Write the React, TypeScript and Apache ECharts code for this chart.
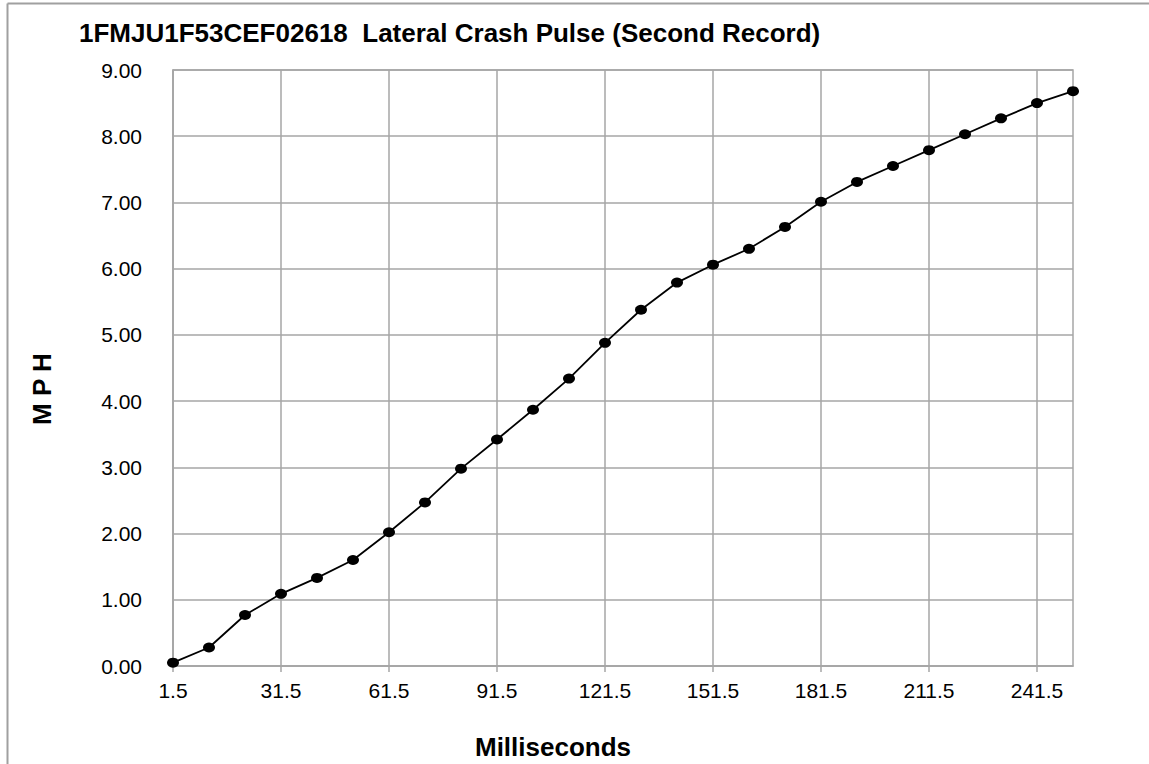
import React, { useEffect, useRef } from "react";
import * as echarts from "echarts";

const categories = [
  "1.5", "11.5", "21.5", "31.5", "41.5", "51.5", "61.5", "71.5", "81.5", "91.5",
  "101.5", "111.5", "121.5", "131.5", "141.5", "151.5", "161.5", "171.5", "181.5", "191.5",
  "201.5", "211.5", "221.5", "231.5", "241.5", "251.5",
];
const mph = [
  0.05, 0.28, 0.77, 1.09, 1.33, 1.6, 2.02, 2.47, 2.98, 3.42,
  3.87, 4.34, 4.88, 5.38, 5.79, 6.06, 6.3, 6.63, 7.01, 7.31,
  7.55, 7.79, 8.03, 8.27, 8.5, 8.68,
];
const titleText = "1FMJU1F53CEF02618  Lateral Crash Pulse (Second Record)";
const xName = "Milliseconds";
const yName = "M P H";

const FONT = "'Liberation Sans', Arial, sans-serif";
const GRID = "#a6a6a6";

export default function App() {
  const ref = useRef<HTMLDivElement>(null);
  useEffect(() => {
    if (!ref.current) return;
    const chart = echarts.init(ref.current, null, { renderer: "svg" });
    chart.setOption({
      animation: false,
      backgroundColor: "#ffffff",
      textStyle: { fontFamily: FONT },
      grid: {
        left: 173,
        right: 76,
        top: 70,
        bottom: 98,
        show: true,
        borderColor: GRID,
        borderWidth: 1.5,
        backgroundColor: "transparent",
      },
      xAxis: {
        type: "category",
        data: categories,
        boundaryGap: false,
        axisLine: { show: true, lineStyle: { color: GRID, width: 1.5 } },
        axisTick: { show: true, interval: 2, length: 6, lineStyle: { color: GRID, width: 1.5 } },
        axisLabel: { interval: 2, color: "#000", fontSize: 21, fontFamily: FONT, margin: 14 },
        splitLine: { show: true, interval: 2, lineStyle: { color: GRID, width: 1.5 } },
      },
      yAxis: {
        type: "value",
        min: 0,
        max: 9,
        interval: 1,
        axisLine: { show: true, lineStyle: { color: GRID, width: 1.5 } },
        axisTick: { show: false },
        axisLabel: {
          color: "#000",
          fontSize: 21,
          fontFamily: FONT,
          margin: 31,
          formatter: (v: number) => v.toFixed(2),
        },
        splitLine: { show: true, lineStyle: { color: GRID, width: 1.5 } },
      },
      series: [
        {
          type: "line",
          data: mph,
          symbol: "circle",
          symbolSize: [12, 10],
          itemStyle: { color: "#000" },
          lineStyle: { color: "#000", width: 1.8 },
        },
      ],
      graphic: [
        { type: "line", shape: { x1: 7.5, y1: 3.5, x2: 1149, y2: 3.5 }, style: { stroke: "#a0a0a0", lineWidth: 2 } },
        { type: "line", shape: { x1: 7.5, y1: 3.5, x2: 7.5, y2: 764 }, style: { stroke: "#a0a0a0", lineWidth: 2 } },
        {
          type: "text",
          x: 79,
          y: 33,
          style: {
            text: titleText,
            fontSize: 26,
            fontWeight: "bold",
            fontFamily: FONT,
            fill: "#000",
            textAlign: "left",
            textVerticalAlign: "middle",
          },
        },
        {
          type: "text",
          x: 553,
          y: 747,
          style: {
            text: xName,
            fontSize: 26,
            fontWeight: "bold",
            fontFamily: FONT,
            fill: "#000",
            textAlign: "center",
            textVerticalAlign: "middle",
          },
        },
        {
          type: "text",
          x: 42,
          y: 389,
          rotation: Math.PI / 2,
          style: {
            text: yName,
            fontSize: 26,
            fontWeight: "bold",
            fontFamily: FONT,
            fill: "#000",
            textAlign: "center",
            textVerticalAlign: "middle",
          },
        },
      ],
    });
    return () => chart.dispose();
  }, []);
  return (
    <div
      ref={ref}
      style={{ position: "fixed", left: 0, top: 0, width: 1149, height: 764 }}
    />
  );
}
